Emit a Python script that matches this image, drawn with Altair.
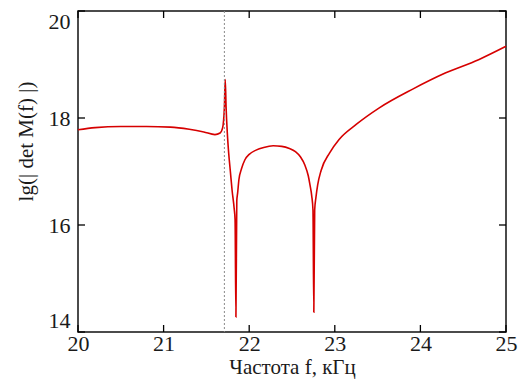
import altair as alt
import pandas as pd

freq = [20.00, 20.20, 20.50, 20.80, 21.08, 21.30, 21.47, 21.60, 21.66, 21.69,
        21.71, 21.72, 21.73, 21.745, 21.76, 21.78, 21.80, 21.825, 21.835, 21.845,
        21.855, 21.865, 21.88, 21.91, 21.95, 22.00, 22.08, 22.17, 22.28, 22.38,
        22.47, 22.54, 22.60, 22.65, 22.69, 22.71, 22.73, 22.745, 22.755, 22.765,
        22.78, 22.80, 22.84, 22.94, 23.05, 23.25, 23.52, 23.91, 24.29, 24.68, 25.00]
lg_det = [17.78, 17.82, 17.84, 17.84, 17.83, 17.79, 17.74, 17.69, 17.72, 17.82,
          18.20, 18.72, 18.20, 17.70, 17.35, 17.00, 16.65, 16.30, 16.10, 14.28,
          16.45, 16.60, 16.85, 17.05, 17.22, 17.32, 17.40, 17.45, 17.48, 17.47,
          17.43, 17.37, 17.27, 17.12, 16.92, 16.75, 16.55, 16.28, 14.37, 16.28,
          16.52, 16.75, 17.02, 17.35, 17.60, 17.88, 18.19, 18.54, 18.84, 19.09, 19.34]
x_ticks = [20, 21, 22, 23, 24, 25]
y_ticks = [14, 16, 18, 20]
marker_f = [21.71]

W, H = 428, 321
TL = 7
FONT = "'Liberation Serif', 'DejaVu Serif', 'Times New Roman', serif"

df = pd.DataFrame({"f": freq, "lg": lg_det})
xt = pd.DataFrame({"f": x_ticks})
yt = pd.DataFrame({"lg": y_ticks})
mk = pd.DataFrame({"f": marker_f})

xs = alt.Scale(domain=[20, 25], nice=False, zero=False)
ys = alt.Scale(domain=[14, 20], nice=False, zero=False)

x_axis = alt.Axis(
    values=x_ticks, title="Частота f, кГц", ticks=False, domain=False, grid=False,
    labelFont=FONT, labelFontSize=22, labelColor="#1a1a1a", labelPadding=1,
    labelFlush=False, titleFont=FONT, titleFontSize=21, titleFontWeight="normal",
    titleColor="#1a1a1a", titlePadding=2)
y_axis = alt.Axis(
    values=y_ticks, title="lg(| det M(f) |)", ticks=False, domain=False, grid=False,
    labelFont=FONT, labelFontSize=22, labelColor="#1a1a1a", labelPadding=8,
    labelFlush=True, titleFont=FONT, titleFontSize=21, titleFontWeight="normal",
    titleColor="#1a1a1a", titleY=130, titleX=-42)

X = alt.X("f:Q", scale=xs, axis=x_axis)
Y = alt.Y("lg:Q", scale=ys, axis=y_axis)

line = alt.Chart(df).mark_line(color="#d60000", strokeWidth=1.6, interpolate="monotone").encode(x=X, y=Y)

marker = alt.Chart(mk).mark_rule(color="#8a8a8a", strokeWidth=1, strokeDash=[2, 2]).encode(
    x=X, y=alt.value(0), y2=alt.value(H))

bt = alt.Chart(xt).mark_rule(color="black", strokeWidth=1.3).encode(
    x=X, y=alt.value(H), y2=alt.value(H - TL))
tt = alt.Chart(xt).mark_rule(color="black", strokeWidth=1.3).encode(
    x=X, y=alt.value(0), y2=alt.value(TL))
lt = alt.Chart(yt).mark_rule(color="black", strokeWidth=1.3).encode(
    y=Y, x=alt.value(0), x2=alt.value(TL))
rt = alt.Chart(yt).mark_rule(color="black", strokeWidth=1.3).encode(
    y=Y, x=alt.value(W), x2=alt.value(W - TL))

chart = alt.layer(line, marker, bt, tt, lt, rt).properties(
    width=W, height=H, autosize="none",
    padding={"left": 70, "top": 3, "right": 13, "bottom": 49},
    background="white",
).configure_view(stroke="#111111", strokeWidth=1.5)

chart.save("out.html", embed_options={"renderer": "svg", "actions": False})
